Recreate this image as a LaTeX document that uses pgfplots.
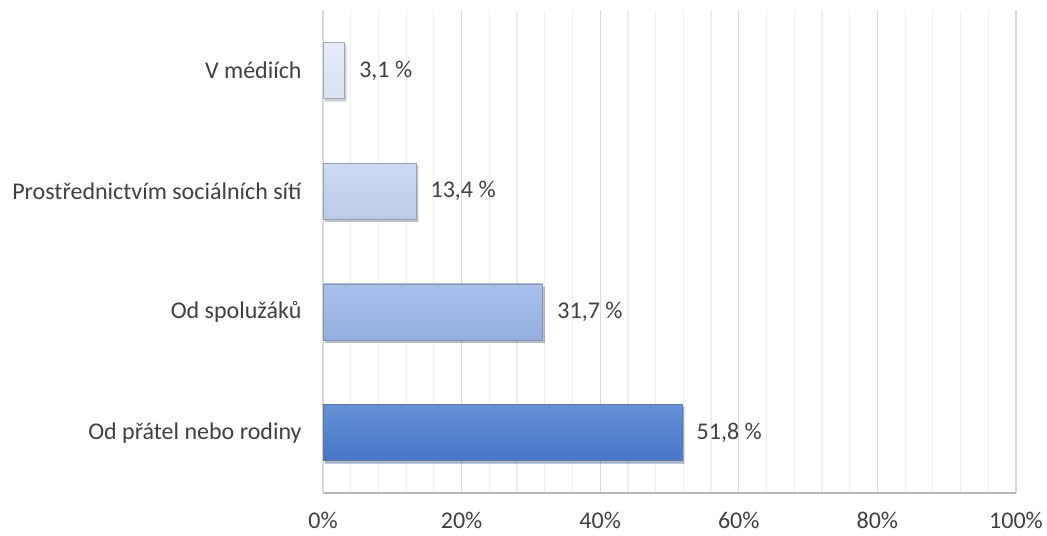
\documentclass[border=0pt]{standalone}
\usepackage{pgfplots}
\pgfplotsset{compat=1.18}
\usepackage{fontspec}
\setmainfont{Carlito}
\definecolor{cA}{HTML}{E2EAF8}
\definecolor{cB}{HTML}{C3D4F0}
\definecolor{cC}{HTML}{9AB6E7}
\definecolor{cD}{HTML}{4A7CCF}
\definecolor{majgrid}{HTML}{D9D9D9}
\definecolor{mingrid}{HTML}{EFEFEF}
\definecolor{txt}{HTML}{404040}
\tikzset{
  shadowbar/.style={preaction={fill=black, opacity=0.22,
    transform canvas={xshift=1.5pt,yshift=-2pt}}},
  bevel/.style={shading=axis, top color=#1!85!white, bottom color=#1!96!black,
    draw=#1!60!black!75},
}
\begin{document}
\begin{tikzpicture}
% picture is 1047x536 px, 1px = 0.75pt; axis box from (323,10) to (1016,493)
\useasboundingbox (-242.25pt,-32.25pt) rectangle (543pt,369.75pt);
\begin{axis}[
  at={(0,0)}, anchor=south west,
  scale only axis,
  width=519.75pt, height=362.25pt,
  xbar, bar width=42pt,
  xmin=0, xmax=100,
  ymin=-0.5, ymax=3.5,
  xtick={0,20,...,100},
  minor x tick num=4,
  xticklabel={\pgfmathprintnumber{\tick}\%},
  ytick={0,1,2,3},
  yticklabels={Od přátel nebo rodiny, Od spolužáků, Prostřednictvím sociálních sítí, V médiích},
  xmajorgrids, xminorgrids,
  major grid style={majgrid, line width=0.9pt},
  minor grid style={mingrid, line width=0.9pt},
  axis lines*=left,
  x axis line style={draw=majgrid!85!black, line width=0.9pt},
  y axis line style={draw=majgrid, line width=0.9pt},
  major tick length=0pt, minor tick length=0pt,
  tick style={draw=none},
  tick label style={font=\fontsize{18pt}{21pt}\selectfont, text=txt},
  /pgf/number format/assume math mode=true,
  xticklabel style={yshift=-11pt},
  yticklabel style={xshift=-12.5pt},
  nodes near coords={\pgfmathprintnumber[use comma,fixed,fixed zerofill,precision=1]{\pgfplotspointmeta}~\%},
  nodes near coords style={font=\fontsize{18pt}{21pt}\selectfont, text=txt, anchor=west, xshift=7.5pt},
  point meta=explicit,
  clip=false,
]
\addplot+[bar shift=0pt, shadowbar, bevel=cA, line width=0.5pt]
  coordinates {(3.1,3) [3.1]};
\addplot+[bar shift=0pt, shadowbar, bevel=cB, line width=0.5pt]
  coordinates {(13.4,2) [13.4]};
\addplot+[bar shift=0pt, shadowbar, bevel=cC, line width=0.5pt]
  coordinates {(31.7,1) [31.7]};
\addplot+[bar shift=0pt, shadowbar, bevel=cD, line width=0.5pt]
  coordinates {(51.8,0) [51.8]};
\end{axis}
\end{tikzpicture}
\end{document}
